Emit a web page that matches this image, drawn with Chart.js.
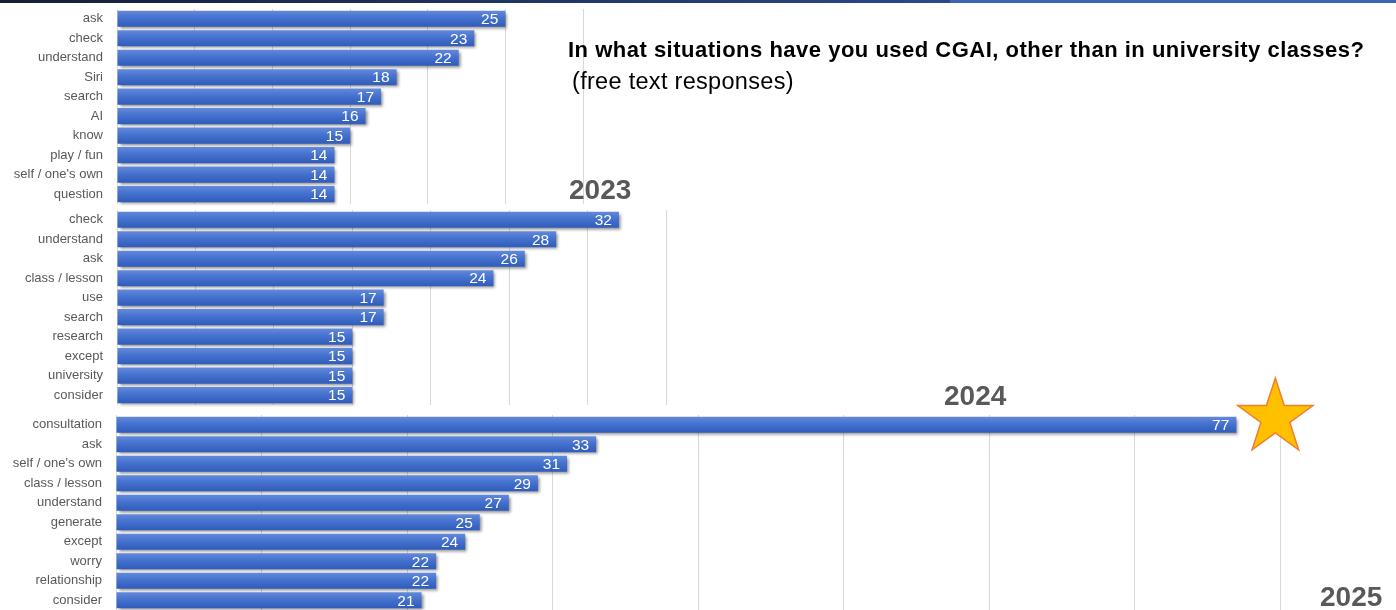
<!DOCTYPE html>
<html>
<head>
<meta charset="utf-8">
<script src="https://cdn.jsdelivr.net/npm/chart.js@4.4.1/dist/chart.umd.min.js"></script>
<style>
  html, body { margin: 0; padding: 0; background: #fff; }
  body { width: 1396px; height: 610px; overflow: hidden; position: relative;
         font-family: "Liberation Sans", Arial, sans-serif; }
  .topbar { position: absolute; left: 0; top: 0; width: 1396px; height: 3px;
            background: linear-gradient(to right, #161f36 0%, #22396b 45%, #2c4a8a 68%, #3b65b3 68.1%, #3b65b3 100%); }
  .panel { position: absolute; left: 0; }
  .year { position: absolute; font-weight: bold; font-size: 28px; line-height: 28px; color: #595959; z-index: 5; white-space: nowrap; }
  .title { position: absolute; left: 568px; top: 39px; font-weight: bold; font-size: 22px; line-height: 22px; letter-spacing: 0.5px; color: #000; z-index: 5; white-space: nowrap; }
  .sub { position: absolute; left: 572px; top: 70px; font-size: 23.5px; line-height: 23.5px; letter-spacing: 0.3px; color: #000; z-index: 5; white-space: nowrap; }
</style>
</head>
<body>
<div class="topbar"></div>

<div class="panel" id="p2023" style="top:5px;width:587px;height:203px;"><canvas id="c2023"></canvas></div>
<div class="panel" id="p2024" style="top:206px;width:670px;height:203px;"><canvas id="c2024"></canvas></div>
<div class="panel" id="p2025" style="top:372px;width:1330px;height:238px;"><canvas id="c2025"></canvas></div>

<div class="title">In what situations have you used CGAI, other than in university classes?</div>
<div class="sub">(free text responses)</div>
<div class="year" style="left:569px;top:176px;">2023</div>
<div class="year" style="left:944px;top:382px;">2024</div>
<div class="year" style="left:1320px;top:583px;">2025</div>

<script>
// Most frequent words in the free text answers, per survey year
const cats2023 = ['ask', 'check', 'understand', 'Siri', 'search', 'AI', 'know', 'play / fun', "self / one's own", 'question'];
const vals2023 = [25, 23, 22, 18, 17, 16, 15, 14, 14, 14];

const cats2024 = ['check', 'understand', 'ask', 'class / lesson', 'use', 'search', 'research', 'except', 'university', 'consider'];
const vals2024 = [32, 28, 26, 24, 17, 17, 15, 15, 15, 15];

const cats2025 = ['consultation', 'ask', "self / one's own", 'class / lesson', 'understand', 'generate', 'except', 'worry', 'relationship', 'consider'];
const vals2025 = [77, 33, 31, 29, 27, 25, 24, 22, 22, 21];

// Axis ranges (the value axis itself is not labelled)
const axisMax = { y2023: 30, y2024: 35, y2025: 80 };
const axisStep = { y2023: 5, y2024: 5, y2025: 10 };

const FONT = '"Liberation Sans", Arial, sans-serif';
const BAR_PCT = 0.83;

// Vertical shading for every bar: light top edge, darker base
function barFill(context) {
  const chart = context.chart;
  const { ctx, chartArea, scales } = chart;
  if (!chartArea || !scales.y) return '#4472C4';
  if (chart.$barFill) return chart.$barFill;
  const ys = scales.y;
  const n = chart.data.labels.length;
  const band = (ys.bottom - ys.top) / n;
  const half = band * BAR_PCT / 2;
  const span = ys.bottom - ys.top;
  const g = ctx.createLinearGradient(0, ys.top, 0, ys.bottom);
  const clamp = v => Math.min(1, Math.max(0, v));
  for (let i = 0; i < n; i++) {
    const c = ys.getPixelForValue(i);
    const t = clamp((c - half - ys.top) / span);
    const b = clamp((c + half - ys.top) / span);
    g.addColorStop(t, '#6389da');
    g.addColorStop(clamp(t + (b - t) * 0.45), '#4572cf');
    g.addColorStop(b, '#2f5cba');
  }
  chart.$barFill = g;
  return g;
}

// Soft drop shadow under the bars
const barShadow = {
  id: 'barShadow',
  beforeDatasetsDraw(chart) {
    const c = chart.ctx;
    c.save();
    c.shadowColor = 'rgba(0,0,0,0.45)';
    c.shadowBlur = 3;
    c.shadowOffsetX = 2;
    c.shadowOffsetY = 2;
  },
  afterDatasetsDraw(chart) { chart.ctx.restore(); }
};

// White value printed inside the end of each bar
const valueLabels = {
  id: 'valueLabels',
  afterDatasetsDraw(chart, args, opts) {
    const { ctx } = chart;
    const meta = chart.getDatasetMeta(0);
    const data = chart.data.datasets[0].data;
    ctx.save();
    ctx.fillStyle = '#ffffff';
    ctx.font = (opts.size || 15.5) + 'px ' + FONT;
    ctx.textAlign = 'right';
    ctx.textBaseline = 'middle';
    meta.data.forEach((el, i) => {
      ctx.fillText(String(data[i]), el.x - 7, el.y + 1);
    });
    ctx.restore();
  }
};

// Gold star next to the top word of the latest year
const starMark = {
  id: 'starMark',
  afterDraw(chart) {
    const { ctx, scales } = chart;
    const el = chart.getDatasetMeta(0).data[0];
    const cx = el.x + 39;
    const cy = scales.y.getPixelForValue(0) - 7;
    const R = 39.6, r = 15.2;
    ctx.save();
    ctx.beginPath();
    for (let k = 0; k < 10; k++) {
      const rad = k % 2 === 0 ? R : r;
      const a = -Math.PI / 2 + k * Math.PI / 5;
      const px = cx + rad * Math.cos(a), py = cy + rad * Math.sin(a);
      if (k === 0) ctx.moveTo(px, py); else ctx.lineTo(px, py);
    }
    ctx.closePath();
    ctx.fillStyle = '#FFC000';
    ctx.fill();
    ctx.lineWidth = 1.5;
    ctx.strokeStyle = '#ED7D31';
    ctx.stroke();
    ctx.restore();
  }
};

function makePanel(canvasId, cats, vals, max, step, frame, extraPlugins) {
  return new Chart(document.getElementById(canvasId), {
    type: 'bar',
    data: {
      labels: cats,
      datasets: [{
        data: vals,
        backgroundColor: barFill,
        borderWidth: 0,
        barPercentage: BAR_PCT,
        categoryPercentage: 1,
        clip: false
      }]
    },
    options: {
      indexAxis: 'y',
      responsive: true,
      maintainAspectRatio: false,
      animation: false,
      events: [],
      layout: { padding: { left: 0, right: frame.right, top: frame.top, bottom: frame.bottom } },
      plugins: {
        legend: { display: false },
        tooltip: { enabled: false },
        valueLabels: { size: 15.5 }
      },
      scales: {
        x: {
          min: 0, max: max,
          ticks: { display: false, stepSize: step },
          grid: { color: '#d9d9d9', lineWidth: 1, drawTicks: false },
          border: { display: false },
          afterFit(s) { s.height = 0; s.paddingLeft = 0; s.paddingRight = 0; }
        },
        y: {
          ticks: { color: '#595959', font: { family: FONT, size: 13 }, padding: 14, autoSkip: false },
          grid: { display: false, drawTicks: false },
          border: { display: false },
          afterFit(s) { s.width = frame.left; s.paddingTop = 0; s.paddingBottom = 0; }
        }
      }
    },
    plugins: [barShadow, valueLabels].concat(extraPlugins || [])
  });
}

makePanel('c2023', cats2023, vals2023, axisMax.y2023, axisStep.y2023, { left: 117, right: 4, top: 4, bottom: 4.1 });
makePanel('c2024', cats2024, vals2024, axisMax.y2024, axisStep.y2024, { left: 117, right: 4, top: 4, bottom: 4.1 });
makePanel('c2025', cats2025, vals2025, axisMax.y2025, axisStep.y2025, { left: 116, right: 50, top: 43, bottom: 0 }, [starMark]);
</script>
</body>
</html>
